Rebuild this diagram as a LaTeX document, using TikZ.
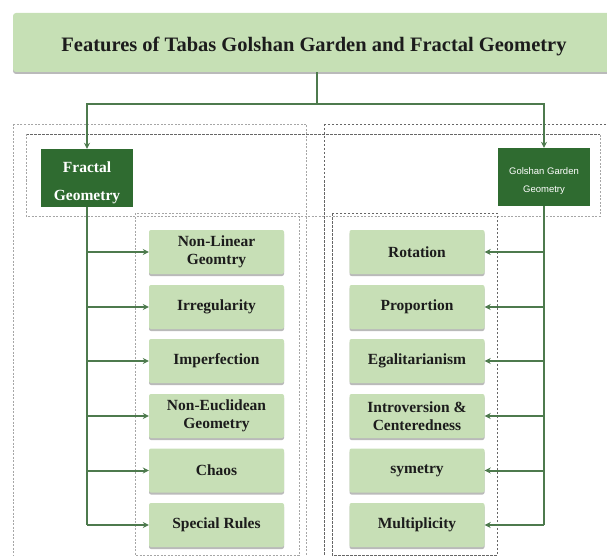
\documentclass[tikz,border=0pt]{standalone}
\usepackage{fontspec}
\setmainfont{Liberation Serif}
\newfontfamily\gsans{Liberation Sans}
\usetikzlibrary{arrows.meta,shadows}
\definecolor{lightgreen}{HTML}{C7DFB6}
\definecolor{titlegreen}{HTML}{C6E0B5}
\definecolor{darkgreen}{HTML}{2F6B30}
\definecolor{linegreen}{HTML}{4D7A4D}
\definecolor{txt}{HTML}{1C1C1C}
\tikzset{
  itembox/.style={draw=none, fill=lightgreen, rounded corners=2pt,
    minimum width=135pt, minimum height=44pt, inner sep=0pt, align=center,
    text=txt, font=\fontsize{15.5}{18}\selectfont\bfseries,
    drop shadow={shadow xshift=0pt, shadow yshift=-2pt, fill=black!45, opacity=0.6}},
  rootbox/.style={draw=none, fill=darkgreen, inner sep=0pt, align=center, text=white},
  conn/.style={draw=linegreen, line width=2pt},
  arr/.style={conn, -{Stealth[length=6pt,width=6pt]}},
  darkdash/.style={draw=black!60, line width=0.9pt, dash pattern=on 2.5pt off 1.5pt},
  lightdash/.style={draw=black!35, line width=0.9pt, dash pattern=on 2pt off 1.5pt},
}
\begin{document}
\begin{tikzpicture}[x=1pt,y=-1pt]
\useasboundingbox (0,0) rectangle (607,556);
% dashed frames
\draw[lightdash] (13,124) rectangle (306,562);
\draw[darkdash] (324,124) rectangle (615,562);
\draw[darkdash] (26,134) -- (600,134);
\draw[lightdash] (26,134) -- (26,216) -- (600,216) -- (600,134);
\draw[lightdash] (135,213) rectangle (299,555);
\draw[darkdash] (332,213) rectangle (497,555);
% title
\node[fill=titlegreen, rounded corners=3pt, minimum width=602pt, minimum height=59pt,
  inner sep=0pt, text=txt, font=\fontsize{20.5}{24}\selectfont\bfseries,
  text height=19pt, text depth=0pt,
  drop shadow={shadow xshift=0pt, shadow yshift=-2pt, fill=black!45, opacity=0.6}]
  (title) at (314,42.5) {Features of Tabas Golshan Garden and Fractal Geometry};
% roots
\node[rootbox, minimum width=92pt, minimum height=58pt,
  font=\fontsize{15.5}{28}\selectfont\bfseries] (fractal) at (87,178) {\rule{0pt}{20pt}Fractal\\Geometry};
\node[rootbox, minimum width=92pt, minimum height=58pt,
  font=\gsans\fontsize{9.5}{18}\selectfont] (golshan) at (544,177) {\rule{0pt}{14pt}Golshan Garden\\Geometry};
\coordinate (hub) at (317,104);
\draw[conn] (title.south -| hub) -- (hub);
\draw[arr] (hub) -| (fractal.north);
\draw[arr] (hub) -| (golshan.north);
% left items
\node[itembox] (l1) at (216.5,252) {Non-Linear\\Geomtry};
\node[itembox] (l2) at (216.5,307) {Irregularity};
\node[itembox] (l3) at (216.5,361) {Imperfection};
\node[itembox] (l4) at (216.5,416) {Non-Euclidean\\Geometry};
\node[itembox] (l5) at (216.5,470.5) {Chaos};
\node[itembox] (l6) at (216.5,525) {Special Rules};
% right items
\node[itembox] (r1) at (417,252) {Rotation};
\node[itembox] (r2) at (417,307) {Proportion};
\node[itembox] (r3) at (417,361) {Egalitarianism};
\node[itembox] (r4) at (417,416) {Introversion \&\\Centeredness};
\node[itembox] (r5) at (417,470.5) {symetry};
\node[itembox] (r6) at (417,525) {Multiplicity};
% trunks
\draw[conn] (fractal.south) -- (fractal.south |- l6.west);
\draw[conn] (golshan.south) -- (golshan.south |- r6.east);
\foreach \i in {1,...,6}{
  \draw[arr] (fractal.south |- l\i.west) -- (l\i.west);
  \draw[arr] (golshan.south |- r\i.east) -- (r\i.east);
}
\end{tikzpicture}
\end{document}
